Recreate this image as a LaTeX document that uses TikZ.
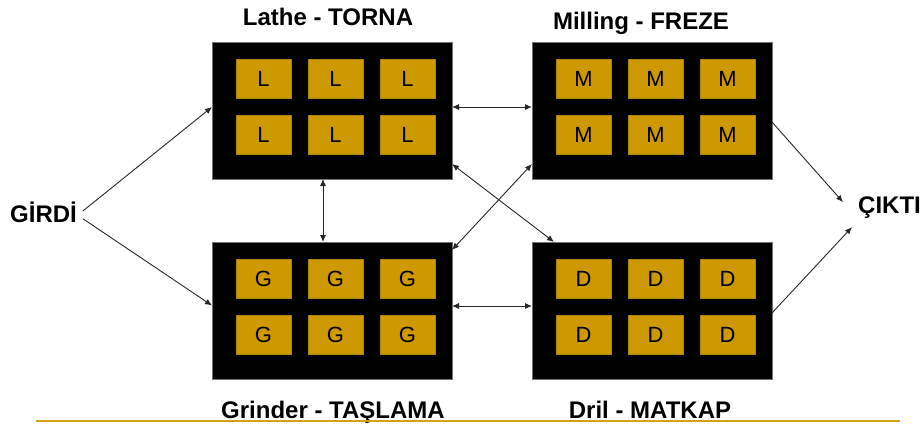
\documentclass[tikz,border=0pt]{standalone}
\usepackage{fontspec}
\setmainfont{Liberation Sans}
\usetikzlibrary{arrows.meta}
\definecolor{tilegold}{RGB}{204,153,0}
\definecolor{rulegold}{RGB}{210,160,25}

\begin{document}
\begin{tikzpicture}[x=1pt,y=-1pt,
  machine/.style={fill=black, draw=black!55, line width=0.6pt,
    minimum width=240pt, minimum height=137pt, inner sep=0pt, outer sep=0pt,
    anchor=north west},
  tile/.style={fill=tilegold, draw=tilegold!85!black, line width=0.4pt,
    minimum width=55pt, minimum height=39pt, inner sep=0pt, outer sep=0pt,
    anchor=north west, font=\fontsize{22}{24}\selectfont},
  title/.style={font=\fontsize{24}{28}\selectfont\bfseries, anchor=base,
    inner sep=0pt},
  tip/.tip={Latex[length=7pt,width=6pt]},
  flow/.style={line width=0.9pt, draw=black!85, -tip},
  both/.style={line width=0.9pt, draw=black!85, tip-tip}
]
\useasboundingbox (0,0) rectangle (924,426);

% four machine cells, each holding a 2x3 grid of stations
\foreach \m/\x/\y/\c in {lathe/212/42/L, mill/532/42/M, grind/212/242/G, drill/532/242/D} {
  \node[machine] (\m) at (\x,\y) {};
  \foreach \i/\dx in {1/24,2/96,3/168}
    \foreach \j/\dy in {1/17,2/73}
      \node[tile] (\m-\j\i) at (\x+\dx,\y+\dy) {\c};
}

% cell titles
\node[title] (lathe-title) at (328,25)  {Lathe - TORNA};
\node[title] (mill-title)  at (641,29)  {Milling - FREZE};
\node[title] (grind-title) at (333,418) {Grinder - TAŞLAMA};
\node[title] (drill-title) at (650,418) {Dril - MATKAP};

% input and output
\node[title, anchor=base west] (girdi) at (10,222) {GİRDİ};
\node[title, anchor=base west] (cikti) at (858,213) {ÇIKTI};

% material flow
\draw[flow] ([xshift=6pt,yshift=1pt]girdi.east) -- ([yshift=3.5pt]lathe.west);
\draw[flow] ([xshift=6pt,yshift=-7pt]girdi.east) -- ([yshift=5pt]grind.west);

\draw[both] ([yshift=3.5pt]lathe.east) -- ([yshift=3.5pt]mill.west);
\draw[both] ([yshift=4.5pt]grind.east) -- ([yshift=4.5pt]drill.west);
\draw[both] ([xshift=-9pt]lathe.south) -- ([xshift=-9pt]grind.north);
\draw[both] ([yshift=15pt]lathe.south east) -- ([xshift=22pt]drill.north west);
\draw[both] ([yshift=-8pt]grind.north east) -- ([yshift=15pt]mill.south west);

\draw[flow] ([yshift=-80pt]mill.north east) -- ([xshift=-15pt,yshift=5pt]cikti.west);
\draw[flow] ([yshift=-71pt]drill.north east) -- ([xshift=-6pt,yshift=-20pt]cikti.west);

% footer rule
\coordinate (rule-l) at (36,421);
\coordinate (rule-r) at (900,421);
\draw[rulegold, line width=2.5pt] (rule-l) -- (rule-r);
\end{tikzpicture}
\end{document}
